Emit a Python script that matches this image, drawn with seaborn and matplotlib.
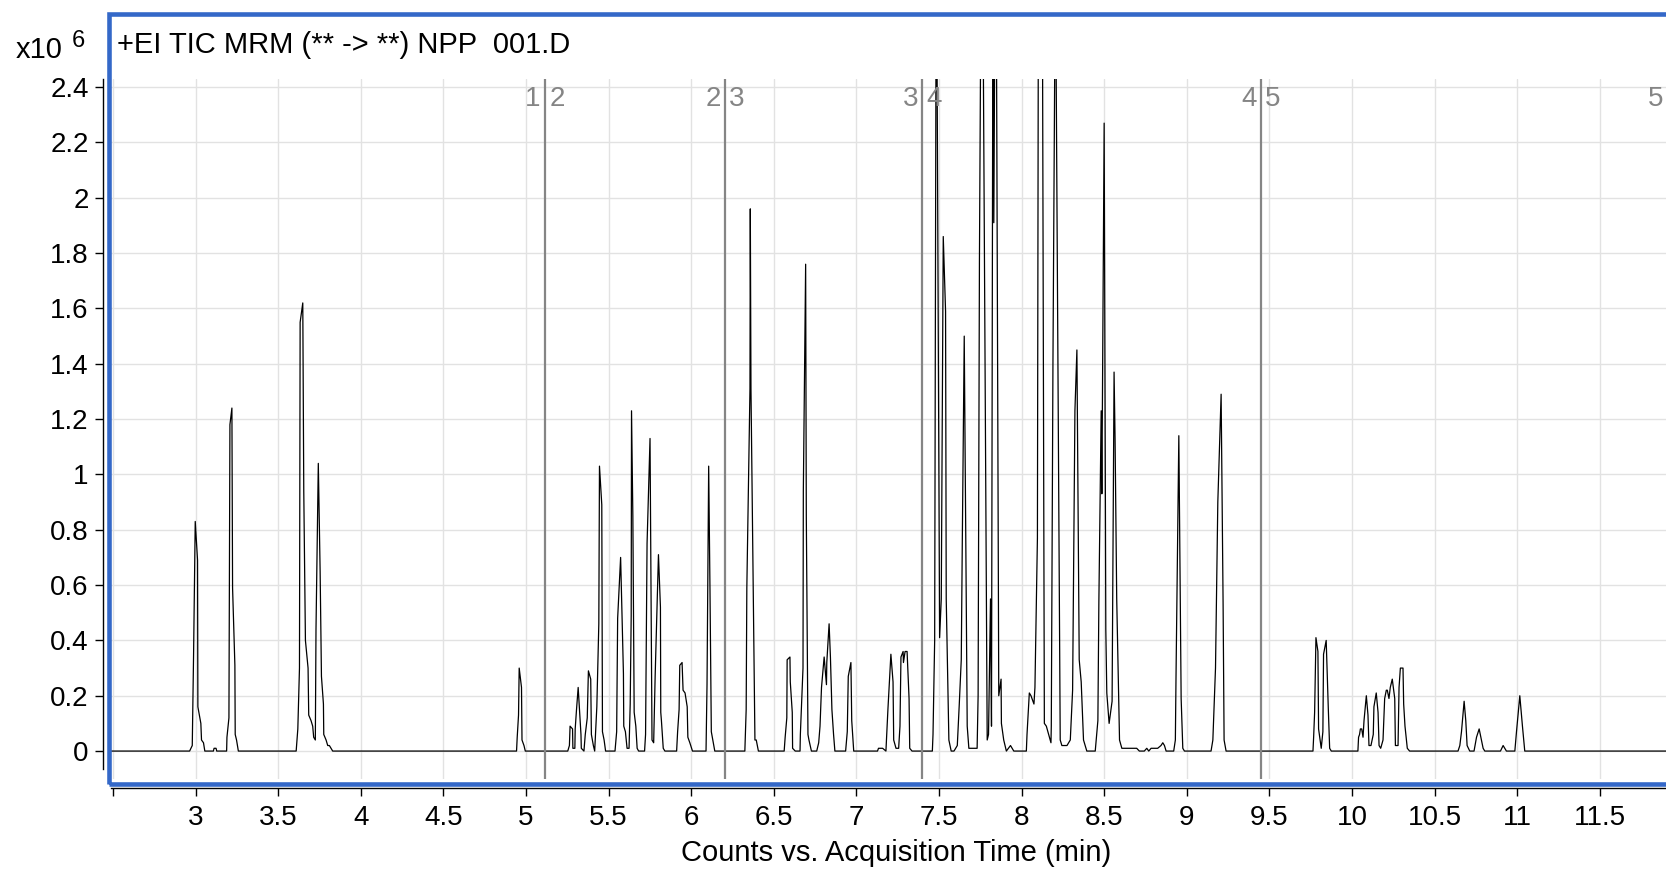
import matplotlib
matplotlib.use("Agg")
import matplotlib.pyplot as plt
import seaborn as sns
import pandas as pd
from matplotlib.patches import Rectangle

# TIC trace: acquisition time (min) and counts (x10^6)
time_min = [
    2.470, 2.964, 2.980, 2.988, 2.998, 3.012, 3.014, 3.032, 3.036, 3.048, 3.056, 3.108, 3.112, 3.124, 3.128,
    3.188, 3.190, 3.202, 3.208, 3.220, 3.224, 3.238, 3.240, 3.248, 3.259,
    3.609, 3.619, 3.629, 3.633, 3.649, 3.655, 3.665, 3.681, 3.685, 3.699, 3.709, 3.715, 3.725, 3.729, 3.743,
    3.754, 3.762, 3.774, 3.776, 3.790, 3.800, 3.810, 3.830,
    4.943, 4.947, 4.955, 4.959, 4.973, 4.976, 4.988, 4.996,
    5.253, 5.263, 5.267, 5.282, 5.284, 5.296, 5.298, 5.306, 5.316, 5.324, 5.333, 5.335, 5.351, 5.359, 5.371,
    5.378, 5.392, 5.396, 5.408, 5.416, 5.429, 5.441, 5.445, 5.459, 5.463, 5.473, 5.482,
    5.539, 5.549, 5.555, 5.573, 5.590, 5.592, 5.602, 5.612, 5.624, 5.631, 5.637, 5.639, 5.647, 5.655, 5.665,
    5.673, 5.682,
    5.718, 5.724, 5.733, 5.751, 5.763, 5.773, 5.782, 5.802, 5.814, 5.816, 5.820, 5.831, 5.841,
    5.912, 5.918, 5.927, 5.931, 5.945, 5.951, 5.963, 5.976, 5.980, 5.992, 6.008,
    6.090, 6.096, 6.106, 6.114, 6.122, 6.131, 6.143,
    6.325, 6.333, 6.337, 6.356, 6.358, 6.362, 6.376, 6.386, 6.394, 6.407,
    6.563, 6.569, 6.579, 6.581, 6.598, 6.600, 6.612, 6.614, 6.630,
    6.659, 6.661, 6.677, 6.679, 6.693, 6.697, 6.707, 6.713, 6.728,
    6.760, 6.772, 6.780, 6.789, 6.805, 6.819, 6.821, 6.835, 6.843, 6.852, 6.862, 6.870,
    6.935, 6.945, 6.951, 6.967, 6.972, 6.984,
    7.128, 7.134, 7.159, 7.179, 7.191, 7.209, 7.222, 7.226, 7.240, 7.256, 7.264, 7.270, 7.283, 7.285, 7.295,
    7.307, 7.319, 7.323, 7.337,
    7.460, 7.464, 7.474, 7.484, 7.504, 7.514, 7.526, 7.540, 7.544, 7.560, 7.574, 7.591, 7.611, 7.623, 7.635,
    7.641, 7.653, 7.671, 7.681, 7.731, 7.737, 7.745, 7.760, 7.792, 7.800, 7.812, 7.818, 7.828, 7.832, 7.844,
    7.862, 7.876, 7.878, 7.892, 7.908, 7.933, 7.953, 8.029, 8.033, 8.047, 8.057, 8.075, 8.081, 8.096, 8.104,
    8.124, 8.138, 8.150, 8.178, 8.180, 8.190, 8.205, 8.234, 8.244, 8.275, 8.295, 8.309, 8.323, 8.335, 8.349,
    8.361, 8.375, 8.395, 8.446, 8.462, 8.468, 8.482, 8.486, 8.500, 8.510, 8.516, 8.530, 8.548, 8.560, 8.566,
    8.576, 8.593, 8.607, 8.677, 8.697, 8.713, 8.743, 8.758, 8.770, 8.784, 8.794, 8.824, 8.844, 8.855, 8.865,
    8.875, 8.921, 8.931, 8.935, 8.952, 8.966, 8.976, 8.986, 9.147, 9.158, 9.174, 9.188, 9.208, 9.220, 9.226,
    9.238,
    9.764, 9.768, 9.774, 9.782, 9.794, 9.798, 9.814, 9.824, 9.828, 9.844, 9.857, 9.865, 9.875,
    10.036, 10.040, 10.046, 10.051, 10.059, 10.067, 10.073, 10.087, 10.097, 10.103, 10.115, 10.129, 10.133,
    10.147, 10.158, 10.164, 10.174, 10.188, 10.198, 10.208, 10.214, 10.224, 10.232, 10.244, 10.259, 10.263,
    10.279, 10.285, 10.293, 10.309, 10.313, 10.321, 10.335, 10.349,
    10.642, 10.653, 10.663, 10.679, 10.689, 10.697, 10.713, 10.739, 10.754, 10.770, 10.784, 10.794, 10.804,
    10.899, 10.907, 10.915, 10.925, 10.935, 10.986, 10.996, 11.016, 11.032, 11.046, 11.950,
]
counts_e6 = [
    0.00, 0.00, 0.02, 0.35, 0.83, 0.69, 0.16, 0.10, 0.04, 0.03, 0.00, 0.00, 0.01, 0.01, 0.00,
    0.00, 0.05, 0.12, 1.18, 1.24, 0.59, 0.31, 0.06, 0.04, 0.00,
    0.00, 0.08, 0.30, 1.55, 1.62, 0.94, 0.40, 0.30, 0.13, 0.11, 0.09, 0.05, 0.04, 0.44, 1.04,
    0.65, 0.27, 0.17, 0.06, 0.04, 0.02, 0.02, 0.00,
    0.00, 0.05, 0.13, 0.30, 0.23, 0.04, 0.02, 0.00,
    0.00, 0.02, 0.09, 0.08, 0.01, 0.01, 0.08, 0.15, 0.23, 0.15, 0.06, 0.01, 0.00, 0.06, 0.12,
    0.29, 0.26, 0.06, 0.02, 0.00, 0.16, 0.46, 1.03, 0.89, 0.07, 0.04, 0.00,
    0.00, 0.07, 0.48, 0.70, 0.28, 0.09, 0.07, 0.01, 0.01, 0.17, 0.49, 1.23, 0.85, 0.14, 0.09,
    0.01, 0.00,
    0.00, 0.06, 0.75, 1.13, 0.04, 0.03, 0.27, 0.71, 0.52, 0.14, 0.11, 0.01, 0.00,
    0.00, 0.07, 0.15, 0.31, 0.32, 0.22, 0.21, 0.16, 0.05, 0.03, 0.00,
    0.00, 0.24, 1.03, 0.58, 0.07, 0.04, 0.00,
    0.00, 0.15, 0.59, 1.31, 1.96, 1.31, 0.57, 0.04, 0.04, 0.00,
    0.00, 0.05, 0.12, 0.33, 0.34, 0.25, 0.14, 0.01, 0.00,
    0.00, 0.06, 0.30, 0.94, 1.76, 0.85, 0.06, 0.04, 0.00,
    0.00, 0.03, 0.09, 0.23, 0.34, 0.24, 0.32, 0.46, 0.34, 0.15, 0.06, 0.00,
    0.00, 0.07, 0.27, 0.32, 0.11, 0.00,
    0.00, 0.01, 0.01, 0.00, 0.15, 0.35, 0.25, 0.04, 0.01, 0.01, 0.09, 0.34, 0.36, 0.32, 0.36,
    0.36, 0.19, 0.01, 0.00,
    0.00, 0.06, 0.40, 3.10, 0.41, 0.55, 1.86, 1.59, 0.55, 0.04, 0.00, 0.00, 0.02, 0.17, 0.33,
    0.74, 1.50, 0.09, 0.01, 0.01, 0.20, 1.77, 3.40, 0.04, 0.06, 0.55, 0.09, 3.20, 1.91, 3.30,
    0.20, 0.26, 0.10, 0.04, 0.00, 0.02, 0.00, 0.00, 0.06, 0.21, 0.20, 0.17, 0.23, 0.77, 3.50,
    3.20, 0.10, 0.09, 0.03, 0.09, 1.40, 2.90, 0.04, 0.02, 0.02, 0.04, 0.22, 1.23, 1.45, 0.33,
    0.25, 0.04, 0.00, 0.00, 0.11, 0.54, 1.23, 0.93, 2.27, 0.44, 0.21, 0.10, 0.18, 1.37, 1.13,
    0.55, 0.04, 0.01, 0.01, 0.01, 0.00, 0.00, 0.01, 0.00, 0.01, 0.01, 0.01, 0.02, 0.03, 0.02,
    0.00, 0.00, 0.04, 0.27, 1.14, 0.19, 0.01, 0.00, 0.00, 0.04, 0.30, 0.90, 1.29, 0.53, 0.04,
    0.00,
    0.00, 0.05, 0.14, 0.41, 0.36, 0.08, 0.01, 0.07, 0.35, 0.40, 0.15, 0.01, 0.00,
    0.00, 0.05, 0.06, 0.08, 0.08, 0.05, 0.11, 0.20, 0.13, 0.02, 0.02, 0.06, 0.16,
    0.21, 0.14, 0.02, 0.01, 0.04, 0.19, 0.22, 0.22, 0.19, 0.23, 0.26, 0.19, 0.02,
    0.02, 0.23, 0.30, 0.30, 0.17, 0.09, 0.01, 0.00,
    0.00, 0.02, 0.07, 0.18, 0.11, 0.02, 0.00, 0.00, 0.05, 0.08, 0.04, 0.01, 0.00,
    0.00, 0.01, 0.02, 0.01, 0.00, 0.00, 0.07, 0.20, 0.09, 0.00, 0.00,
]

# Acquisition segment boundaries (min) and the segment numbers either side
segment_bounds = [5.115, 6.203, 7.400, 9.448, 11.913]
segment_left = ["1", "2", "3", "4", "5"]
segment_right = ["2", "3", "4", "5", ""]

x_ticks = [2.5, 3, 3.5, 4, 4.5, 5, 5.5, 6, 6.5, 7, 7.5, 8, 8.5, 9, 9.5, 10, 10.5, 11, 11.5]
x_tick_labels = ["", "3", "3.5", "4", "4.5", "5", "5.5", "6", "6.5", "7", "7.5", "8", "8.5",
                 "9", "9.5", "10", "10.5", "11", "11.5"]
y_ticks = [0, 0.2, 0.4, 0.6, 0.8, 1.0, 1.2, 1.4, 1.6, 1.8, 2.0, 2.2, 2.4]
y_tick_labels = ["0", "0.2", "0.4", "0.6", "0.8", "1", "1.2", "1.4", "1.6", "1.8", "2", "2.2", "2.4"]

title_text = "+EI TIC MRM (** -> **) NPP  001.D"
x_label = "Counts vs. Acquisition Time (min)"

W, H = 1666, 869
sns.set_theme(style="white")
plt.rcParams["font.family"] = ["Liberation Sans", "DejaVu Sans"]

fig = plt.figure(figsize=(W / 100, H / 100), dpi=100)
ax_left, ax_top, ax_bottom = 109, 79, 779
ax = fig.add_axes([ax_left / W, 1 - ax_bottom / H, 1 - ax_left / W, (ax_bottom - ax_top) / H])

df = pd.DataFrame({"time": time_min, "counts": counts_e6})
sns.lineplot(data=df, x="time", y="counts", ax=ax, estimator=None, sort=False,
             color="black", linewidth=0.9, zorder=3)

ax.set_xlim(2.476, 11.901)
ax.set_ylim(-0.101, 2.4295)
ax.set_xticks(x_ticks)
ax.set_xticklabels(x_tick_labels)
ax.set_yticks(y_ticks)
ax.set_yticklabels(y_tick_labels)
ax.set_xlabel("")
ax.set_ylabel("")

ax.grid(True, color="#e2e2e2", linewidth=1.0)
ax.set_axisbelow(True)

for side in ("top", "right"):
    ax.spines[side].set_visible(False)
for side in ("left", "bottom"):
    ax.spines[side].set_color("black")
    ax.spines[side].set_linewidth(1.0)
ax.spines["left"].set_position(("outward", 4.5))
ax.spines["bottom"].set_position(("outward", 6.5))
ax.spines["left"].set_bounds(-0.065, 2.4295)
ax.spines["bottom"].set_bounds(2.49, 11.901)

ax.tick_params(axis="both", which="major", direction="out", length=6, width=1.0,
               color="black", labelsize=20, labelcolor="black",
               bottom=True, left=True)
ax.tick_params(axis="x", pad=6)
ax.tick_params(axis="y", pad=4)

# Segment boundary markers
for bound, lft, rgt in zip(segment_bounds, segment_left, segment_right):
    ax.axvline(bound, color="#858585", linewidth=1.6, zorder=4)
    ax.annotate(lft, xy=(bound, 1), xycoords=("data", "axes fraction"),
                xytext=(-3, -5), textcoords="offset points", ha="right", va="top",
                fontsize=20, color="#858585", annotation_clip=False)
    if rgt:
        ax.annotate(rgt, xy=(bound, 1), xycoords=("data", "axes fraction"),
                    xytext=(3, -5), textcoords="offset points", ha="left", va="top",
                    fontsize=20, color="#858585", annotation_clip=False)

# Blue frame around the plot panel
frame = Rectangle((ax_left / W, 1 - 783.5 / H), 1.2, (783.5 - 14) / H,
                  transform=fig.transFigure, fill=False, edgecolor="#3468c8",
                  linewidth=3.3, zorder=10)
fig.add_artist(frame)

fig.text(117 / W, 1 - 45 / H, title_text, ha="left", va="center", fontsize=21, color="black")
fig.text(16 / W, 1 - 50 / H, "x10", ha="left", va="center", fontsize=21, color="black")
fig.text(72 / W, 1 - 41 / H, "6", ha="left", va="center", fontsize=17, color="black")
fig.text(896 / W, 1 - 853 / H, x_label, ha="center", va="center", fontsize=21, color="black")

fig.savefig("out.png", dpi=100)
